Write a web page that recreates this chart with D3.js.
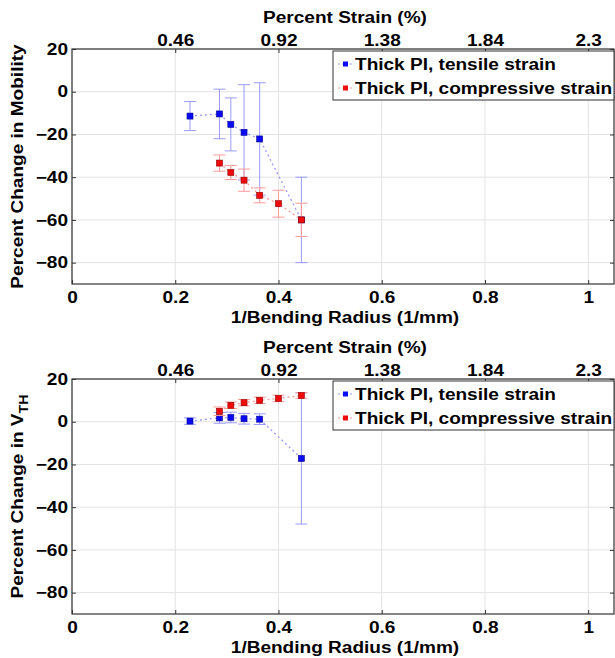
<!DOCTYPE html>
<html>
<head>
<meta charset="utf-8">
<script src="https://cdn.jsdelivr.net/npm/d3@7"></script>
<style>
  body { margin: 0; background: #fff; }
  text { font-family: "Liberation Sans", Arial, Helvetica, sans-serif; font-weight: bold; font-size: 16px; fill: #000; }
</style>
</head>
<body>
<script>
// data
const invRadius = [0.2286, 0.2857, 0.3077, 0.3333, 0.3636, 0.4, 0.4444];
const tensileIdx = [0, 1, 2, 3, 4, 6];
const compressIdx = [1, 2, 3, 4, 5, 6];

const tensileMob = [-11.4, -10.4, -15.3, -19.0, -22.1, -60.0];
const tensileMobErr = [6.8, 11.6, 12.4, 22.3, 26.3, 20.0];
const compressMob = [-33.4, -37.8, -41.4, -48.5, -52.4, -60.0];
const compressMobErr = [3.8, 3.3, 5.2, 3.5, 6.3, 7.8];

const tensileVth = [0.3, 1.8, 2.0, 1.4, 1.2, -17.2];
const tensileVthErr = [1.5, 2.5, 2.5, 2.5, 2.5, 30.7];
const compressVth = [4.9, 7.7, 8.9, 10.0, 10.9, 12.3];
const compressVthErr = [2.0, 1.5, 1.5, 1.5, 1.5, 1.3];

const xTicks = [0, 0.2, 0.4, 0.6, 0.8, 1];
const strainTicks = [0.46, 0.92, 1.38, 1.84, 2.3];
const yTicks = [-80, -60, -40, -20, 0, 20];
const legendLabels = ['Thick PI, tensile strain', 'Thick PI, compressive strain'];

const width = 615;
const height = 658;
const SX = 1.19; // the source font is stretched horizontally
const left = 72, right = 614, plotH = 235;

const svg = d3.select('body').append('svg')
  .attr('width', width)
  .attr('height', height);

const x = d3.scaleLinear().domain([0, 1.05]).range([left, right]);
const xStrain = d3.scaleLinear().domain([0, 1.05 * 2.3]).range([left, right]);

function label(g, px, py, txt, rotate) {
  return g.append('text')
    .attr('transform', `translate(${px},${py})` + (rotate ? ' rotate(-90)' : '') + ` scale(${SX},1)`)
    .attr('text-anchor', 'middle')
    .text(txt);
}

function drawPanel(top, yTitle, sub, series) {
  const g = svg.append('g');
  const bottom = top + plotH;
  const y = d3.scaleLinear().domain([-90, 20]).range([bottom, top]);

  // grid
  g.append('g').selectAll('line').data(xTicks).enter().append('line')
    .attr('x1', d => x(d)).attr('x2', d => x(d))
    .attr('y1', top).attr('y2', bottom)
    .attr('stroke', '#e3e3e3');
  g.append('g').selectAll('line').data(yTicks).enter().append('line')
    .attr('x1', left).attr('x2', right)
    .attr('y1', d => y(d)).attr('y2', d => y(d))
    .attr('stroke', '#e3e3e3');

  // axes
  const xa = g.append('g').attr('transform', `translate(0,${bottom})`)
    .call(d3.axisBottom(x).tickValues(xTicks).tickFormat(d3.format('')).tickSize(-4).tickPadding(8));
  const ta = g.append('g').attr('transform', `translate(0,${top})`)
    .call(d3.axisTop(xStrain).tickValues(strainTicks).tickFormat(d => d).tickSize(-4).tickPadding(3));
  const ya = g.append('g').attr('transform', `translate(${left},0)`)
    .call(d3.axisLeft(y).tickValues(yTicks).tickSize(-4).tickPadding(4));
  g.append('g').attr('transform', `translate(${right},0)`)
    .call(d3.axisRight(y).tickValues(yTicks).tickFormat('').tickSize(-4));

  [xa, ta, ya].forEach(a => {
    a.selectAll('.tick text')
      .attr('transform', `scale(${SX},1)`)
      .style('font-size', '16px')
      .attr('fill', '#000');
  });
  ya.selectAll('.tick text').attr('x', -4 / SX);
  g.selectAll('.domain').remove();
  g.selectAll('.tick line').attr('stroke', '#333');

  g.append('rect')
    .attr('x', left).attr('y', top)
    .attr('width', right - left).attr('height', plotH)
    .attr('fill', 'none').attr('stroke', '#333').attr('stroke-width', 1.2);

  // titles
  label(g, 345, top - 26, 'Percent Strain (%)');
  label(g, 345, bottom + 39, '1/Bending Radius (1/mm)');
  const yt = label(g, 23, (top + bottom) / 2, yTitle, true);
  if (sub) {
    yt.append('tspan').attr('dy', 5).style('font-size', '12px').text(sub);
  }

  // series
  series.forEach(s => {
    const pts = s.idx.map((k, i) => ({ x: invRadius[k], v: s.vals[i], e: s.err[i] }));
    const sg = g.append('g');
    const bars = sg.selectAll('g.eb').data(pts).enter().append('g')
      .attr('stroke', s.light).attr('stroke-width', 1);
    bars.append('line')
      .attr('x1', d => x(d.x)).attr('x2', d => x(d.x))
      .attr('y1', d => y(d.v + d.e)).attr('y2', d => y(d.v - d.e));
    bars.append('line')
      .attr('x1', d => x(d.x) - 6).attr('x2', d => x(d.x) + 6)
      .attr('y1', d => y(d.v + d.e)).attr('y2', d => y(d.v + d.e));
    bars.append('line')
      .attr('x1', d => x(d.x) - 6).attr('x2', d => x(d.x) + 6)
      .attr('y1', d => y(d.v - d.e)).attr('y2', d => y(d.v - d.e));

    sg.append('path')
      .attr('d', d3.line().x(d => x(d.x)).y(d => y(d.v))(pts))
      .attr('fill', 'none')
      .attr('stroke', s.light)
      .attr('stroke-width', 1.3)
      .attr('stroke-dasharray', '2,3');

    sg.selectAll('rect').data(pts).enter().append('rect')
      .attr('x', d => x(d.x) - 3).attr('y', d => y(d.v) - 3)
      .attr('width', 6).attr('height', 6)
      .attr('fill', s.color)
      .attr('stroke', s.edge).attr('stroke-width', 0.6);
  });

  // legend
  const lg = g.append('g');
  lg.append('rect')
    .attr('x', 333).attr('y', top + 2)
    .attr('width', right - 333).attr('height', 49)
    .attr('fill', '#fff').attr('stroke', '#333');
  series.forEach((s, i) => {
    const cy = top + 15 + i * 24;
    lg.append('line')
      .attr('x1', 338).attr('x2', 352).attr('y1', cy).attr('y2', cy)
      .attr('stroke', s.light).attr('stroke-dasharray', '2,2');
    lg.append('rect')
      .attr('x', 343).attr('y', cy - 2.5).attr('width', 5).attr('height', 5)
      .attr('fill', s.color);
    lg.append('text')
      .attr('transform', `translate(355,${cy + 6}) scale(${SX},1)`)
      .text(legendLabels[i]);
  });
}

const blue = { color: '#0a0af5', edge: '#000090', light: '#9a9aff' };
const red = { color: '#f00a0a', edge: '#900000', light: '#ff9a9a' };

drawPanel(49, 'Percent Change in Mobility', null, [
  Object.assign({ idx: tensileIdx, vals: tensileMob, err: tensileMobErr }, blue),
  Object.assign({ idx: compressIdx, vals: compressMob, err: compressMobErr }, red)
]);

drawPanel(379, 'Percent Change in V', 'TH', [
  Object.assign({ idx: tensileIdx, vals: tensileVth, err: tensileVthErr }, blue),
  Object.assign({ idx: compressIdx, vals: compressVth, err: compressVthErr }, red)
]);
</script>
</body>
</html>
